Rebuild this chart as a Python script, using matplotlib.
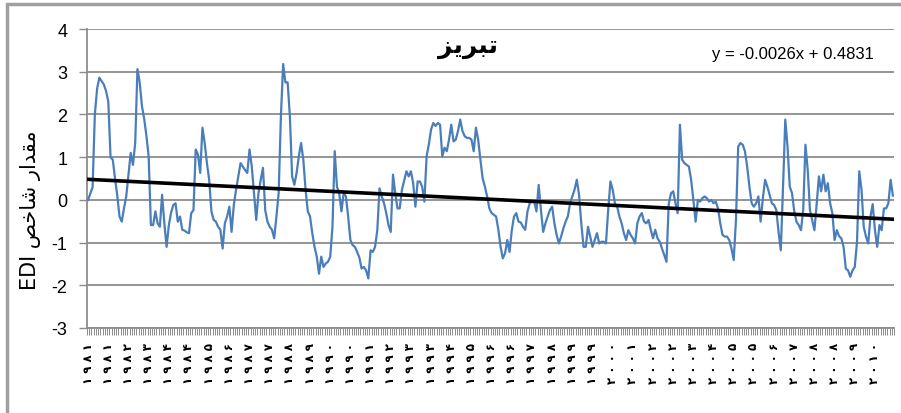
import numpy as np
import matplotlib
matplotlib.use("Agg")
import matplotlib.pyplot as plt
from matplotlib.patches import Rectangle

# monthly EDI values, Tabriz, 1981-2010
edi = [
    0.0, 0.15, 0.3, 2.0, 2.6, 2.86, 2.78, 2.7, 2.55, 2.3,
    1.0, 0.94, 0.5, 0.1, -0.39, -0.51, -0.2, 0.08, 0.6, 1.1,
    0.82, 1.33, 3.06, 2.75, 2.2, 1.9, 1.5, 1.02, -0.59, -0.59,
    -0.27, -0.55, -0.63, 0.12, -0.55, -1.1, -0.6, -0.3, -0.12, -0.08,
    -0.51, -0.39, -0.7, -0.72, -0.76, -0.78, -0.31, -0.24, 1.18, 1.06,
    0.63, 1.69, 1.33, 0.86, 0.47, -0.27, -0.47, -0.51, -0.63, -0.7,
    -1.14, -0.55, -0.39, -0.16, -0.75, -0.12, 0.24, 0.55, 0.86, 0.78,
    0.7, 0.63, 1.18, 0.78, 0.16, -0.47, 0.16, 0.47, 0.75, -0.24,
    -0.51, -0.63, -0.7, -0.9, -0.39, 0.16, 1.96, 3.18, 2.75, 2.75,
    1.96, 0.55, 0.35, 0.63, 1.02, 1.33, 0.94, 0.24, -0.27, -0.39,
    -0.78, -1.1, -1.33, -1.73, -1.33, -1.57, -1.49, -1.45, -1.33, -0.63,
    1.14, 0.31, 0.16, -0.27, 0.16, 0.08, -0.39, -0.94, -1.06, -1.1,
    -1.22, -1.35, -1.61, -1.57, -1.65, -1.84, -1.18, -1.22, -1.1, -0.71,
    0.27, 0.08, -0.08, -0.31, -0.59, -0.75, 0.59, 0.16, -0.2, -0.2,
    0.24, 0.45, 0.67, 0.55, 0.67, 0.39, -0.16, 0.43, 0.43, 0.31,
    -0.04, 1.02, 1.3, 1.65, 1.8, 1.73, 1.8, 1.76, 1.02, 1.22,
    1.14, 1.41, 1.76, 1.37, 1.41, 1.61, 1.88, 1.61, 1.49, 1.45,
    1.45, 1.41, 1.14, 1.69, 1.41, 0.94, 0.5, 0.31, 0.08, -0.2,
    -0.31, -0.35, -0.39, -0.7, -1.1, -1.37, -1.25, -0.94, -1.22, -0.71,
    -0.39, -0.31, -0.51, -0.53, -0.63, -0.7, -0.27, -0.08, -0.04, -0.04,
    -0.27, 0.35, -0.24, -0.75, -0.55, -0.39, -0.24, -0.16, -0.55, -0.82,
    -1.02, -0.86, -0.67, -0.51, -0.39, -0.08, 0.08, 0.24, 0.47, 0.12,
    -0.55, -1.1, -1.1, -0.63, -0.86, -1.1, -0.94, -0.78, -1.02, -0.98,
    -0.98, -1.02, -0.24, 0.43, 0.24, -0.08, -0.16, -0.39, -0.55, -0.78,
    -0.94, -0.71, -0.82, -0.9, -1.02, -0.55, -0.39, -0.31, -0.51, -0.55,
    -0.47, -0.7, -0.9, -0.7, -0.9, -0.98, -1.14, -1.29, -1.45, -0.1,
    0.15, 0.2, -0.08, -0.31, 1.76, 0.94, 0.86, 0.82, 0.78, 0.47,
    0.0, -0.51, 0.0, -0.04, 0.04, 0.08, 0.04, -0.04, 0.0, -0.08,
    -0.04, -0.2, -0.55, -0.82, -0.86, -0.86, -0.94, -1.14, -1.41, -0.47,
    1.25, 1.33, 1.29, 1.14, 0.78, 0.31, -0.08, -0.16, -0.08, 0.08,
    -0.51, 0.04, 0.47, 0.31, 0.12, -0.08, -0.12, -0.24, -0.75, -1.18,
    0.3, 1.88, 1.25, 0.31, 0.16, -0.27, -0.51, -0.59, -0.71, -0.24,
    1.29, 0.71, -0.24, -0.47, -0.71, -0.1, 0.55, 0.2, 0.59, 0.2,
    0.39, -0.08, -0.31, -0.94, -0.71, -0.85, -0.9, -1.1, -1.61, -1.65,
    -1.8, -1.65, -1.57, -0.98, 0.67, 0.24, -0.63, -0.86, -1.02, -0.39,
    -0.1, -0.71, -1.1, -0.59, -0.71, -0.2, -0.2, -0.08, 0.47, 0.1,
]

years = list(range(1981, 2011))
month_years = [y for y in years for _ in range(12)]
label_step = 9

# linear trend as printed on the chart
trend_slope = -0.0026
trend_intercept = 0.4831

title = "\uFEB0\uFEF3\uFEAE\uFE92\uFE97"  # تبریز
ylabel = "EDI \uFEBA\uFEA7\uFE8E\uFEB7 \uFEAD\uFE8D\uFEAA\uFED8\uFEE3"  # مقدار شاخص EDI
equation = "y = -0.0026x + 0.4831"

fa_digits = str.maketrans("0123456789", "\u06F0\u06F1\u06F2\u06F3\u06F4\u06F5\u06F6\u06F7\u06F8\u06F9")

sans = ["Liberation Sans", "DejaVu Sans"]

fig = plt.figure(figsize=(9.01, 4.14), dpi=100)
ax = fig.add_axes([87 / 901, 1 - 329 / 414, (894 - 87) / 901, (329 - 30) / 414])

x = np.arange(len(edi))
ax.plot(x, edi, color="#4a7ebb", lw=1.6, zorder=3)
xt = x + 1
ax.plot(x, trend_slope * xt + trend_intercept, color="black", lw=2.6, zorder=4)

ax.set_xlim(-0.5, len(edi) - 0.5)
ax.set_ylim(-3, 4)
ax.set_yticks(range(-3, 5))
ax.set_yticklabels([str(v) for v in range(-3, 5)], family=sans, fontsize=13)
ax.grid(axis="y", color="#8c8c8c", lw=1.3)
ax.set_axisbelow(True)

pos = x[::label_step]
ax.set_xticks(pos)
ax.set_xticklabels([" ".join(str(month_years[i]).translate(fa_digits)) for i in pos],
                   rotation=90, fontsize=8.5, fontweight="bold", family=["DejaVu Sans"])
ax.tick_params(axis="x", length=0, pad=10)
ax.set_xticks(np.arange(len(edi) + 1) - 0.5, minor=True)
ax.tick_params(axis="x", which="minor", length=5, color="#8c8c8c", width=0.7)
ax.tick_params(axis="y", length=6, color="#8c8c8c", width=1.0, pad=8)

for s in ["top", "right"]:
    ax.spines[s].set_visible(False)
for s in ["left", "bottom"]:
    ax.spines[s].set_color("#8c8c8c")
    ax.spines[s].set_linewidth(1.3)

fig.text(31 / 901, 1 - 210 / 414, ylabel, family=["DejaVu Sans"], fontsize=15,
         rotation=90, ha="center", va="center")

fig.text(468 / 901, 1 - 47 / 414, title, family=["DejaVu Sans"], fontsize=18,
         fontweight="bold", ha="center", va="center")
fig.text(793 / 901, 1 - 55 / 414, equation, family=sans, fontsize=12,
         ha="center", va="center")

fig.patches.append(Rectangle((7 / 901, -0.5), 2, 0.5 + 1 - 5 / 414, transform=fig.transFigure,
                             fill=False, edgecolor="#a0a0a0", lw=2.5))

fig.savefig("out.png", dpi=100)
